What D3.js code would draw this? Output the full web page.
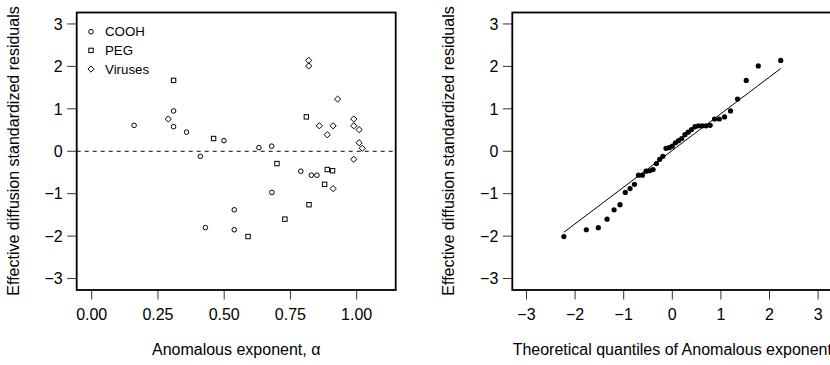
<!DOCTYPE html>
<html><head><meta charset="utf-8">
<script src="https://cdn.jsdelivr.net/npm/d3@7"></script>
<style>body{margin:0;background:#fff}svg{display:block}text{font-family:"Liberation Sans",Arial,Helvetica,sans-serif;fill:#000}</style>
</head><body>
<script>
// Residual plot data (anomalous exponent vs standardized residual)
const coohAlpha = [0.16,0.309,0.309,0.358,0.41,0.499,0.631,0.679,0.538,0.429,0.538,0.789,0.829,0.85,0.68];
const coohResid = [0.61,0.95,0.58,0.45,-0.12,0.25,0.085,0.12,-1.38,-1.80,-1.85,-0.47,-0.565,-0.565,-0.97];
const pegAlpha = [0.309,0.46,0.81,0.699,0.889,0.909,0.879,0.82,0.729,0.59];
const pegResid = [1.67,0.30,0.81,-0.29,-0.43,-0.46,-0.78,-1.26,-1.60,-2.01];
const virAlpha = [0.289,0.819,0.819,0.928,0.859,0.911,0.889,0.989,0.989,1.009,1.009,1.021,0.989,0.911];
const virResid = [0.76,2.14,2.01,1.23,0.60,0.60,0.39,0.76,0.60,0.51,0.20,0.07,-0.19,-0.88];
const groups = ["COOH","PEG","Viruses"];
// QQ plot data
const qqTheoretical = [-2.231,-1.769,-1.522,-1.342,-1.198,-1.076,-0.967,-0.869,-0.779,-0.695,-0.615,-0.539,-0.466,-0.396,-0.327,-0.260,-0.194,-0.129,-0.064,0,
  0.064,0.129,0.194,0.260,0.327,0.396,0.466,0.539,0.615,0.695,0.779,0.869,0.967,1.076,1.198,1.342,1.522,1.769,2.231];
const qqLineX = [-2.231, 2.231];
const qqLineY = [-1.91, 1.95];
const xTicksLeft = [0,0.25,0.5,0.75,1];
const yTicks = [-3,-2,-1,0,1,2,3];
const xTicksRight = [-3,-2,-1,0,1,2,3];

const W=830,H=365;
const svg=d3.select("body").append("svg").attr("width",W).attr("height",H);

const y=d3.scaleLinear().domain([-3.27,3.27]).range([290,12.5]);
const xL=d3.scaleLinear().domain([-0.0566,1.1472]).range([76.7,395.7]);
const xR=d3.scaleLinear().domain([-3.292,3.292]).range([512.3,832.3]);
const fmtL=d3.format(".2f");
const minus = v => String(v).replace("-","\u2212");

function frame(x, ticksX, fmtX, xTitle){
  const g=svg.append("g");
  const [x0,x1]=x.range();
  // y axis ticks
  yTicks.forEach(t=>{
    g.append("line").attr("x1",x0-9.5).attr("x2",x0).attr("y1",y(t)).attr("y2",y(t)).attr("stroke","#333").attr("stroke-width",1);
    g.append("text").attr("x",x0-14).attr("y",y(t)).attr("dy","0.36em").attr("text-anchor","end").attr("font-size",16).text(minus(t));
  });
  ticksX.forEach(t=>{
    g.append("line").attr("x1",x(t)).attr("x2",x(t)).attr("y1",290).attr("y2",299.5).attr("stroke","#333").attr("stroke-width",1);
    g.append("text").attr("x",x(t)).attr("y",320).attr("text-anchor","middle").attr("font-size",16).text(fmtX(t));
  });
  g.append("rect").attr("x",x0).attr("y",12.5).attr("width",x1-x0).attr("height",290-12.5)
    .attr("fill","none").attr("stroke","#000").attr("stroke-width",1.8);
  g.append("text").attr("x",(x0+x1)/2).attr("y",355).attr("text-anchor","middle").attr("font-size",16).text(xTitle);
  g.append("text").attr("transform",`translate(${x0-58},${151})rotate(-90)`).attr("text-anchor","middle").attr("font-size",16)
    .text("Effective diffusion standardized residuals");
  return g;
}

// Left panel
const gl=frame(xL,xTicksLeft,fmtL,"Anomalous exponent, \u03b1");
gl.append("line").attr("x1",xL.range()[0]).attr("x2",xL.range()[1]).attr("y1",y(0)).attr("y2",y(0))
  .attr("stroke","#000").attr("stroke-width",1).attr("stroke-dasharray","4,4");

function circ(g,cx,cy){g.append("circle").attr("cx",cx).attr("cy",cy).attr("r",2.3).attr("fill","none").attr("stroke","#000").attr("stroke-width",1);}
function sq(g,cx,cy){g.append("rect").attr("x",cx-2.2).attr("y",cy-2.2).attr("width",4.4).attr("height",4.4).attr("fill","none").attr("stroke","#000").attr("stroke-width",1);}
function dia(g,cx,cy){const r=3.1;g.append("path").attr("d",`M${cx},${cy-r}L${cx+r},${cy}L${cx},${cy+r}L${cx-r},${cy}Z`).attr("fill","none").attr("stroke","#000").attr("stroke-width",1);}

coohAlpha.forEach((a,i)=>circ(gl,xL(a),y(coohResid[i])));
pegAlpha.forEach((a,i)=>sq(gl,xL(a),y(pegResid[i])));
virAlpha.forEach((a,i)=>dia(gl,xL(a),y(virResid[i])));

// Legend
const shapes=[circ,sq,dia];
groups.forEach((name,i)=>{
  const ly=31.7+i*18.7;
  shapes[i](gl,91,ly);
  gl.append("text").attr("x",105).attr("y",ly).attr("dy","0.36em").attr("font-size",13.3).text(name);
});

// Right panel
const gr=frame(xR,xTicksRight,minus,"Theoretical quantiles of Anomalous exponent");
const allResid=[...coohResid,...pegResid,...virResid].sort((a,b)=>a-b);
gr.append("line").attr("x1",xR(qqLineX[0])).attr("x2",xR(qqLineX[1])).attr("y1",y(qqLineY[0])).attr("y2",y(qqLineY[1]))
  .attr("stroke","#000").attr("stroke-width",1);
qqTheoretical.forEach((q,i)=>{
  gr.append("circle").attr("cx",xR(q)).attr("cy",y(allResid[i])).attr("r",2.6).attr("fill","#000");
});
</script>
</body></html>
